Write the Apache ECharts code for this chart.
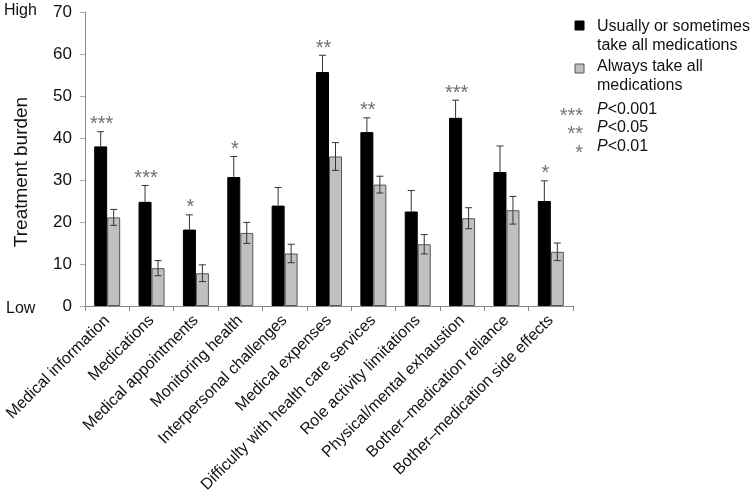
<!DOCTYPE html>
<html><head><meta charset="utf-8">
<script src="https://cdn.jsdelivr.net/npm/echarts@6/dist/echarts.min.js"></script>
<style>html,body{margin:0;padding:0;background:#fff}#c{width:755px;height:501px}</style>
</head><body><div id="c"></div>
<script>
const categories = ["Medical information","Medications","Medical appointments","Monitoring health","Interpersonal challenges","Medical expenses","Difficulty with health care services","Role activity limitations","Physical/mental exhaustion","Bother\u2013medication reliance","Bother\u2013medication side effects"];
const usuallyMean = [38.0, 24.8, 18.2, 30.7, 23.9, 55.7, 41.4, 22.5, 44.8, 31.9, 25.0];
const usuallyErr  = [3.5, 3.9, 3.5, 4.9, 4.3, 4.0, 3.4, 5.0, 4.2, 6.2, 4.8];
const alwaysMean  = [21.1, 9.0, 7.8, 17.4, 12.5, 35.6, 28.9, 14.7, 20.9, 22.8, 12.9];
const alwaysErr   = [1.9, 1.8, 2.0, 2.5, 2.2, 3.3, 2.0, 2.3, 2.5, 3.3, 2.1];
const significance = ["***","***","*","*","","**","**","","***","","*"];
const yTicks = [0, 10, 20, 30, 40, 50, 60, 70];

const FONT = "Liberation Sans, Arial, sans-serif";
const chart = echarts.init(document.getElementById('c'));
const BW = 13;

function errItem(offset, both) {
  return function (params, api) {
    const i = api.value(0), m = api.value(1), e = api.value(2);
    const top = api.coord([i, m + e]);
    const mid = api.coord([i, m]);
    const bot = api.coord([i, m - e]);
    const x = top[0] + offset;
    const cap = 3.5;
    const style = {stroke: '#333', lineWidth: 1};
    const ch = [
      {type: 'line', shape: {x1: x, y1: top[1], x2: x, y2: both ? bot[1] : mid[1]}, style},
      {type: 'line', shape: {x1: x - cap, y1: top[1], x2: x + cap, y2: top[1]}, style}
    ];
    if (both) ch.push({type: 'line', shape: {x1: x - cap, y1: bot[1], x2: x + cap, y2: bot[1]}, style});
    return {type: 'group', children: ch};
  };
}

const richP = {i: {fontStyle: 'italic', fontSize: 16, fontFamily: FONT, fill: '#111'}};
const STAR = '20px ' + FONT;

chart.setOption({
  animation: false,
  textStyle: {fontFamily: FONT},
  grid: {left: 85, right: 182, top: 12, bottom: 195},
  xAxis: {
    type: 'category', data: categories,
    axisLine: {lineStyle: {color: '#888'}},
    axisTick: {show: true, length: 5, lineStyle: {color: '#888'}},
    axisLabel: {rotate: 45, interval: 0, color: '#111', fontSize: 16, fontFamily: FONT, margin: 12}
  },
  yAxis: {
    type: 'value', min: 0, max: 70, interval: 10,
    axisLine: {show: true, lineStyle: {color: '#888'}},
    axisTick: {show: true, length: 5, lineStyle: {color: '#aaa'}},
    splitLine: {show: false},
    axisLabel: {color: '#111', fontSize: 17, fontFamily: FONT, margin: 13,
      formatter: v => yTicks.includes(v) ? String(v) : ''}
  },
  series: [
    {name: 'Usually or sometimes take all medications', type: 'bar', data: usuallyMean, barWidth: BW, barGap: '0%',
      itemStyle: {color: '#000', borderColor: '#000', borderWidth: 1}},
    {name: 'Always take all medications', type: 'bar', data: alwaysMean, barWidth: BW,
      itemStyle: {color: '#c0c0c0', borderColor: '#555', borderWidth: 1}},
    {type: 'custom', data: usuallyMean.map((m, i) => [i, m, usuallyErr[i]]), renderItem: errItem(-BW / 2, false), z: 5},
    {type: 'custom', data: alwaysMean.map((m, i) => [i, m, alwaysErr[i]]), renderItem: errItem(BW / 2, true), z: 5},
    {type: 'custom', data: usuallyMean.map((m, i) => [i, m + usuallyErr[i]]), z: 6,
      renderItem: function (params, api) {
        const i = api.value(0);
        const p = api.coord([i, api.value(1)]);
        return {type: 'text', style: {text: significance[i], x: p[0] - BW / 2 + 1, y: p[1] + 3,
          align: 'center', verticalAlign: 'bottom', fill: '#707070', font: STAR}};
      }}
  ],
  graphic: [
    {type: 'text', left: 4, top: 3, style: {text: 'High', fill: '#111', font: '16px ' + FONT}},
    {type: 'text', left: 6, top: 301, style: {text: 'Low', fill: '#111', font: '16px ' + FONT}},
    {type: 'text', x: 22, y: 172, rotation: Math.PI / 2, style: {text: 'Treatment burden', align: 'center', verticalAlign: 'middle', fill: '#111', font: '19px ' + FONT}},
    {type: 'rect', shape: {x: 575, y: 21, width: 9, height: 9}, style: {fill: '#000', stroke: '#000'}},
    {type: 'text', left: 597, top: 17, style: {text: 'Usually or sometimes\ntake all medications', fill: '#111', font: '16px ' + FONT, lineHeight: 19}},
    {type: 'rect', shape: {x: 575, y: 64, width: 9, height: 9}, style: {fill: '#c0c0c0', stroke: '#555'}},
    {type: 'text', left: 597, top: 57, style: {text: 'Always take all\nmedications', fill: '#111', font: '16px ' + FONT, lineHeight: 19}},
    {type: 'text', x: 583, y: 116, style: {text: '***', align: 'right', verticalAlign: 'middle', fill: '#777', font: STAR}},
    {type: 'text', x: 583, y: 134, style: {text: '**', align: 'right', verticalAlign: 'middle', fill: '#777', font: STAR}},
    {type: 'text', x: 583, y: 153, style: {text: '*', align: 'right', verticalAlign: 'middle', fill: '#777', font: STAR}},
    {type: 'text', x: 597, y: 110, style: {text: '{i|P}<0.001', verticalAlign: 'middle', fill: '#111', font: '16px ' + FONT, rich: richP}},
    {type: 'text', x: 597, y: 128, style: {text: '{i|P}<0.05', verticalAlign: 'middle', fill: '#111', font: '16px ' + FONT, rich: richP}},
    {type: 'text', x: 597, y: 147, style: {text: '{i|P}<0.01', verticalAlign: 'middle', fill: '#111', font: '16px ' + FONT, rich: richP}}
  ]
});
</script></body></html>
